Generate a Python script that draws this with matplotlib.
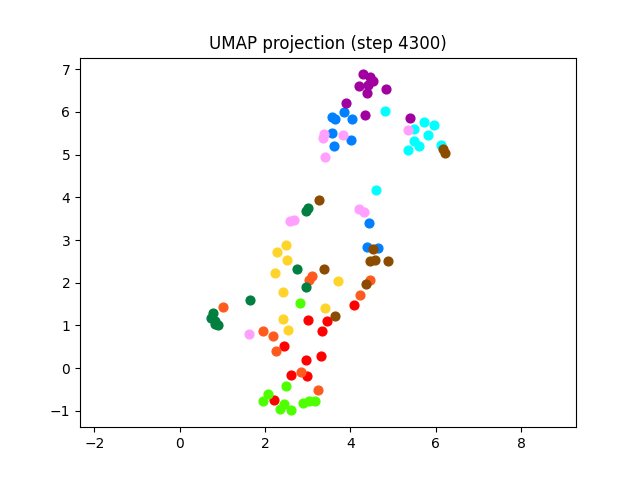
import matplotlib
matplotlib.use("Agg")
import matplotlib.pyplot as plt

title = "UMAP projection (step 4300)"

colors = ["#ff0000", "#ff5a1e", "#ffd42a", "#4dff00", "#007f40",
          "#00ffff", "#0080ff", "#a000a0", "#ffa0ff", "#8b4c00"]

red_x = [3.00, 3.44, 4.09, 3.34, 2.44, 3.31, 2.96, 2.61, 2.98, 2.20]
red_y = [1.13, 1.11, 1.49, 0.86, 0.52, 0.28, 0.18, -0.15, -0.18, -0.75]

orange_x = [3.09, 3.04, 4.45, 4.22, 1.02, 1.95, 2.18, 2.25, 2.85, 3.25]
orange_y = [2.16, 2.07, 2.07, 1.71, 1.43, 0.88, 0.76, 0.41, -0.09, -0.52]

yellow_x = [2.49, 2.29, 2.52, 2.24, 3.71, 2.43, 3.40, 2.43, 2.54]
yellow_y = [2.88, 2.71, 2.53, 2.23, 2.03, 1.79, 1.42, 1.16, 0.90]

lime_x = [2.81, 2.50, 2.08, 1.96, 2.45, 2.34, 2.60, 2.89, 3.03, 3.17]
lime_y = [1.52, -0.42, -0.61, -0.78, -0.83, -0.95, -0.99, -0.81, -0.77, -0.76]

green_x = [2.96, 3.00, 2.75, 2.95, 1.64, 0.79, 0.73, 0.83, 0.91, 0.83]
green_y = [3.67, 3.74, 2.32, 1.91, 1.59, 1.28, 1.17, 1.10, 1.02, 1.04]

cyan_x = [4.80, 5.72, 5.96, 5.50, 5.81, 5.48, 5.60, 5.34, 6.13, 4.59]
cyan_y = [6.03, 5.77, 5.69, 5.59, 5.45, 5.33, 5.20, 5.11, 5.23, 4.17]

blue_x = [3.58, 3.63, 3.85, 4.04, 3.58, 4.02, 3.61, 4.43, 4.39, 4.64]
blue_y = [5.88, 5.83, 6.00, 5.84, 5.51, 5.34, 5.20, 3.39, 2.83, 2.82]

purple_x = [4.30, 4.47, 4.53, 4.41, 4.21, 4.40, 4.84, 3.90, 4.34, 5.40]
purple_y = [6.88, 6.82, 6.73, 6.63, 6.60, 6.45, 6.53, 6.21, 5.93, 5.85]

pink_x = [5.34, 3.38, 3.35, 3.83, 3.40, 2.58, 2.69, 4.19, 4.31, 1.63]
pink_y = [5.58, 5.49, 5.38, 5.47, 4.95, 3.45, 3.48, 3.72, 3.66, 0.80]

brown_x = [6.16, 6.22, 3.26, 4.52, 4.47, 4.57, 4.88, 3.37, 4.37, 3.63]
brown_y = [5.13, 5.05, 3.94, 2.80, 2.52, 2.54, 2.52, 2.32, 1.96, 1.21]

groups = [(red_x, red_y), (orange_x, orange_y), (yellow_x, yellow_y),
          (lime_x, lime_y), (green_x, green_y), (cyan_x, cyan_y),
          (blue_x, blue_y), (purple_x, purple_y), (pink_x, pink_y),
          (brown_x, brown_y)]

fig, ax = plt.subplots(figsize=(6.4, 4.8), dpi=100)
for (gx, gy), c in zip(groups, colors):
    ax.scatter(gx, gy, s=40, color=c)
ax.set_aspect('equal', 'datalim')
ax.set_title(title)
fig.savefig("out.png", dpi=100)
